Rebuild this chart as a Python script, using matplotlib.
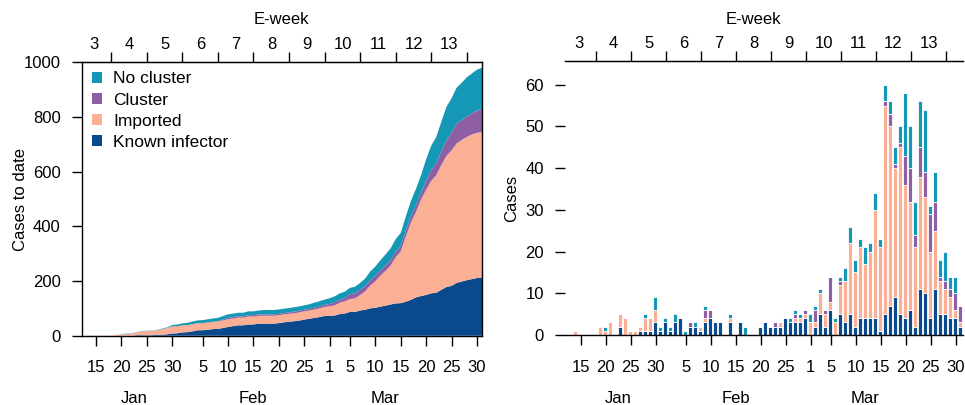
import numpy as np
import matplotlib.pyplot as plt
from matplotlib.patches import Patch

plt.rcParams['font.family'] = ['Liberation Sans', 'DejaVu Sans']
plt.rcParams['font.size'] = 12

# 每日病例数, 从 1月12日 到 3月31日 (2020)
# 1月12日 - 1月31日
known_jan = [0, 0, 0, 0, 0, 0, 0, 0, 0, 0, 0, 2, 0, 0, 0, 1, 1, 1, 3, 1]
imported_jan = [0, 0, 1, 0, 0, 0, 0, 2, 1, 3, 0, 3, 4, 1, 1, 1, 3, 3, 3, 0]
cluster_jan = [0] * 20
nocluster_jan = [0, 0, 0, 0, 0, 0, 0, 0, 1, 0, 0, 0, 0, 0, 0, 0, 1, 0, 3, 1]

# 2月1日 - 2月29日
known_feb = [3, 1, 3, 4, 0, 2, 2, 1, 3, 4, 3, 3, 0, 3, 0, 3, 0, 0, 0, 2,
             3, 2, 2, 2, 4, 3, 3, 3, 4]
imported_feb = [0, 0, 0, 0, 0, 0, 0, 1, 1, 0, 0, 0, 0, 1, 0, 0, 0, 0, 0, 0,
                0, 0, 0, 1, 0, 0, 1, 1, 1]
cluster_feb = [0, 0, 0, 0, 0, 1, 0, 0, 2, 2, 0, 0, 0, 0, 0, 0, 0, 0, 0, 0,
               0, 0, 1, 0, 0, 0, 1, 0, 1]
nocluster_feb = [1, 1, 2, 0, 1, 0, 1, 0, 1, 0, 0, 0, 0, 1, 0, 0, 2, 0, 0, 0,
                 0, 0, 0, 0, 0, 1, 1, 1, 0]

# 3月1日 - 3月31日
known_mar = [0, 2, 5, 2, 6, 0, 5, 3, 5, 2, 4, 4, 4, 4, 1, 5, 7, 9, 5, 4,
             6, 2, 11, 10, 4, 11, 5, 5, 4, 4, 2]
imported_mar = [3, 1, 5, 3, 2, 3, 7, 10, 17, 13, 17, 13, 16, 26, 20, 50, 43, 31, 40, 32,
                26, 19, 27, 23, 16, 14, 8, 6, 5, 2, 1]
cluster_mar = [0, 3, 0, 1, 6, 0, 1, 0, 0, 0, 0, 0, 0, 0, 0, 1, 3, 1, 1, 7,
               8, 3, 7, 6, 9, 7, 1, 2, 2, 4, 4]
nocluster_mar = [2, 1, 1, 0, 0, 1, 1, 3, 4, 3, 2, 4, 2, 4, 2, 4, 3, 4, 4, 15,
                 10, 8, 11, 15, 2, 7, 4, 7, 3, 4, 0]

known = np.array(known_jan + known_feb + known_mar)
imported = np.array(imported_jan + imported_feb + imported_mar)
cluster = np.array(cluster_jan + cluster_feb + cluster_mar)
nocluster = np.array(nocluster_jan + nocluster_feb + nocluster_mar)
day = np.arange(12, 12 + len(known))  # 一年中的第几天

labels = ['No cluster', 'Cluster', 'Imported', 'Known infector']
colors = {'No cluster': '#1598B5', 'Cluster': '#8F5FA6',
          'Imported': '#FBAF94', 'Known infector': '#0A4A8C'}

# 坐标轴刻度
date_ticks = [15, 20, 25, 30, 36, 41, 46, 51, 56, 61, 65, 70, 75, 80, 85, 90]
date_labels = ['15', '20', '25', '30', '5', '10', '15', '20', '25',
               '1', '5', '10', '15', '20', '25', '30']
months = ['Jan', 'Feb', 'Mar']
month_pos = [22.5, 46, 72]
week_bounds = [18, 25, 32, 39, 46, 53, 60, 67, 74, 81, 88]
week_names = ['3', '4', '5', '6', '7', '8', '9', '10', '11', '12', '13']
week_mid = [b - 3.4 for b in week_bounds]

W, H = 965, 405
fig = plt.figure(figsize=(W / 100, H / 100), dpi=100)
ax1 = fig.add_axes([81.7 / W, 1 - 335.7 / H, 400.3 / W, 273.4 / H])
ax2 = fig.add_axes([565 / W, 1 - 335 / H, 398 / W, 274 / H])


def decorate(ax, ymid_px_off):
    ax.set_xticks(date_ticks)
    ax.set_xticklabels(date_labels)
    ax.tick_params(axis='x', direction='out', length=7.2, width=1, pad=10.5, labelsize=12)
    ax.tick_params(axis='y', direction='out', length=7.2, width=1, pad=8, labelsize=12)
    for m, p in zip(months, month_pos):
        ax.text(p, ymid_px_off, m, transform=ax.get_xaxis_transform(),
                ha='center', va='center', fontsize=12)
    top = ax.secondary_xaxis('top')
    top.set_xticks(week_bounds)
    top.set_xticklabels([''] * len(week_bounds))
    top.set_xticks(week_mid, labels=week_names, minor=True)
    top.tick_params(which='major', direction='out', length=7.2, width=1)
    top.tick_params(which='minor', length=0, pad=7.5, labelsize=12)
    for s in ax.spines.values():
        s.set_linewidth(1)


# 左图: 累计病例
cum = {
    'Known infector': np.cumsum(known),
    'Imported': np.cumsum(imported),
    'Cluster': np.cumsum(cluster),
    'No cluster': np.cumsum(nocluster),
}
order = ['Known infector', 'Imported', 'Cluster', 'No cluster']
ax1.stackplot(day, [cum[k] for k in order], colors=[colors[k] for k in order],
              linewidth=0)
ax1.set_xlim(12.2, 91)
ax1.set_ylim(0, 1000)
ax1.set_yticks([0, 200, 400, 600, 800, 1000])
decorate(ax1, -0.228)
ax1.text(-0.152, 0.5, 'Cases to date', transform=ax1.transAxes, rotation=90,
         ha='center', va='center', fontsize=12)
ax1.text(0.5, 1.155, 'E-week', transform=ax1.transAxes, ha='center', va='center',
         fontsize=12)
handles = [Patch(facecolor=colors[k], edgecolor='none') for k in labels]
ax1.legend(handles, labels, loc='upper left', bbox_to_anchor=(0.025, 0.967),
           frameon=False, borderaxespad=0, borderpad=0, handlelength=0.6,
           handleheight=0.6, handletextpad=0.65, labelspacing=0.36, fontsize=12.5)

# 右图: 每日病例
bottom = np.zeros(len(day))
for k, v in zip(order, [known, imported, cluster, nocluster]):
    ax2.bar(day - 0.15, v, bottom=bottom, width=0.9, color=colors[k],
            edgecolor='white', linewidth=0.6)
    bottom = bottom + v
ax2.set_xlim(11.86, 91.5)
ax2.set_ylim(0, 65.7)
ax2.set_yticks([0, 10, 20, 30, 40, 50, 60])
ax2.spines['left'].set_visible(False)
ax2.spines['right'].set_visible(False)
decorate(ax2, -0.23)
ax2.text(-0.133, 0.5, 'Cases', transform=ax2.transAxes, rotation=90,
         ha='center', va='center', fontsize=12)
ax2.text((753 - 565) / 398, 1.153, 'E-week', transform=ax2.transAxes,
         ha='center', va='center', fontsize=12)

fig.savefig('out.png', dpi=100)
